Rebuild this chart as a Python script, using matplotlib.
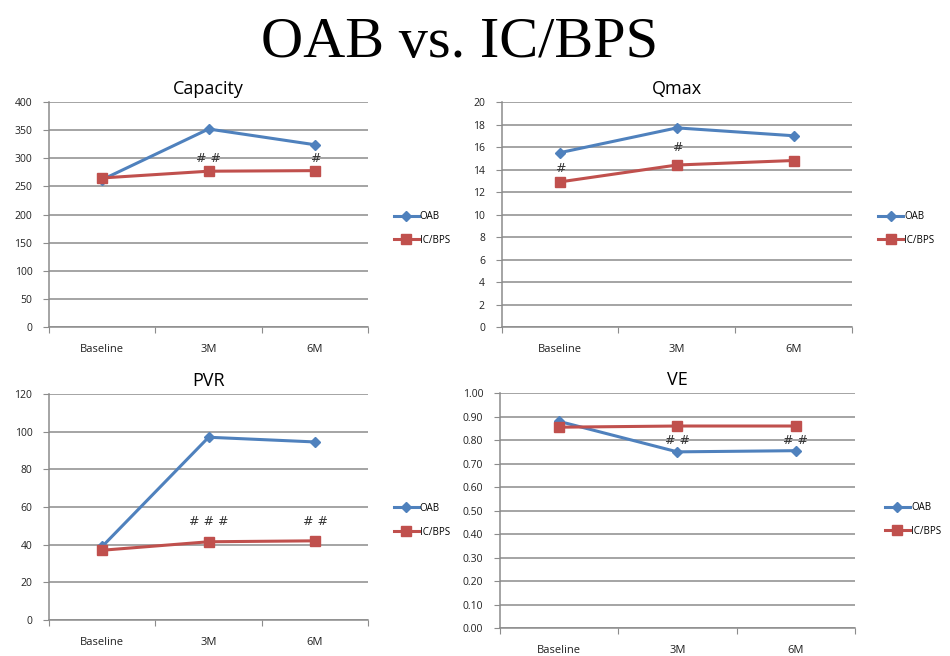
import matplotlib
matplotlib.use("Agg")
import matplotlib.pyplot as plt

# data
categories = ["Baseline", "3M", "6M"]

capacity_oab = [262, 352, 324]
capacity_ic = [265, 277, 278]

qmax_oab = [15.5, 17.7, 17.0]
qmax_ic = [12.9, 14.4, 14.8]

pvr_oab = [39, 97, 94.5]
pvr_ic = [37, 41.5, 42]

ve_oab = [0.88, 0.75, 0.755]
ve_ic = [0.855, 0.86, 0.86]

# significance marks: (category index, y value, text)
capacity_marks = [(1, 300, "# #"), (2, 300, "#")]
qmax_marks = [(0, 14.1, "#"), (1, 16.0, "#")]
pvr_marks = [(1, 52, "# # #"), (2, 52, "# #")]
ve_marks = [(1, 0.80, "# #"), (2, 0.80, "# #")]

OAB_COLOR = "#4F81BD"
IC_COLOR = "#C0504D"
GRID = "#8c8c8c"
FONT = "Open Sans"

fig = plt.figure(figsize=(9.5, 6.56), dpi=100)
fig.text(0.484, 0.935, "OAB vs. IC/BPS", ha="center", va="center",
         fontsize=42, family="Liberation Serif")


def panel(rect, title, oab, ic, marks, ymax, ystep, fmt, legend_xy):
    ax = fig.add_axes(rect)
    x = [i + 0.5 for i in range(len(categories))]
    ax.plot(x, oab, color=OAB_COLOR, lw=2.2, marker="D", ms=5, label="OAB",
            zorder=3)
    ax.plot(x, ic, color=IC_COLOR, lw=2.2, marker="s", ms=7.5, label="IC/BPS",
            zorder=3)
    for idx, yv, txt in marks:
        ax.text(x[idx], yv, txt, ha="center", va="center", fontsize=9,
                color="#333333", family="DejaVu Sans", zorder=4)

    ax.set_xlim(0, len(categories))
    ax.set_ylim(0, ymax)
    yt = []
    v = 0
    while v <= ymax + 1e-9:
        yt.append(v)
        v += ystep
    ax.set_yticks(yt)
    ax.set_yticklabels([fmt.format(t) for t in yt], fontsize=7.5,
                       family=FONT, color="#222222")
    ax.set_xticks(range(len(categories) + 1))
    ax.set_xticklabels([])
    ax.set_xticks(x, minor=True)
    ax.set_xticklabels(categories, minor=True, fontsize=8, family=FONT,
                       color="#222222")
    ax.tick_params(axis="x", which="minor", length=0, pad=12)
    ax.tick_params(axis="x", which="major", length=4, color=GRID,
                   direction="out")
    ax.tick_params(axis="y", length=4, color=GRID, direction="out", pad=8)
    ax.yaxis.grid(True, color=GRID, lw=1.1)
    ax.set_axisbelow(True)
    for s in ["top", "right"]:
        ax.spines[s].set_visible(False)
    for s in ["left", "bottom"]:
        ax.spines[s].set_color(GRID)
        ax.spines[s].set_linewidth(1.1)
    ax.set_title(title, fontsize=13, family=FONT, pad=6)
    ax.legend(loc="center left", bbox_to_anchor=legend_xy,
              bbox_transform=fig.transFigure, frameon=False,
              prop={"family": FONT, "size": 7}, handlelength=2.6,
              handletextpad=0.1, labelspacing=1.3)
    return ax


panel([0.0516, 0.5015, 0.336, 0.343], "Capacity", capacity_oab, capacity_ic,
      capacity_marks, 400, 50, "{:.0f}", (0.405, 0.652))
panel([0.528, 0.5015, 0.369, 0.343], "Qmax", qmax_oab, qmax_ic,
      qmax_marks, 20, 2, "{:.0f}", (0.915, 0.652))
panel([0.0516, 0.055, 0.336, 0.3445], "PVR", pvr_oab, pvr_ic,
      pvr_marks, 120, 20, "{:.0f}", (0.405, 0.207))
panel([0.526, 0.0427, 0.374, 0.358], "VE", ve_oab, ve_ic,
      ve_marks, 1.0, 0.1, "{:.2f}", (0.922, 0.208))

fig.savefig("out.png", dpi=100)
